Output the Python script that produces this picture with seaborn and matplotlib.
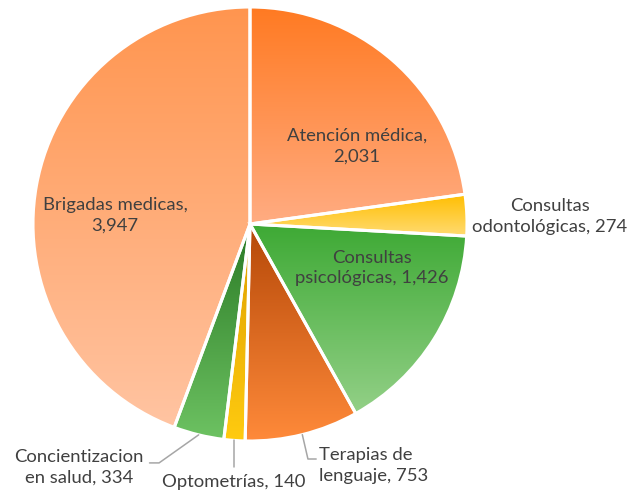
"""Pie chart: actividades de salud (recreated)."""

import matplotlib
matplotlib.use("Agg")
import matplotlib.pyplot as plt
import numpy as np
import seaborn as sns
from matplotlib.colors import LinearSegmentedColormap

CATEGORIES = [
    "Atención médica",
    "Consultas odontológicas",
    "Consultas psicológicas",
    "Terapias de lenguaje",
    "Optometrías",
    "Concientizacion en salud",
    "Brigadas medicas",
]
VALUES = [2031, 274, 1426, 753, 140, 334, 3947]
LABELS = [
    "Atención médica,\n2,031",
    "Consultas\nodontológicas, 274",
    "Consultas\npsicológicas, 1,426",
    "Terapias de\nlenguaje, 753",
    "Optometrías, 140",
    "Concientizacion\nen salud, 334",
    "Brigadas medicas,\n3,947",
]

# gradient fill per slice (top colour -> bottom colour)
TOP_COLORS = ["#FF7A22", "#FFBE00", "#3DA934", "#B54808", "#DD9E00", "#2A7A25", "#FF954F"]
BOTTOM_COLORS = ["#FFAC82", "#FFDB72", "#93D087", "#FF8A3A", "#FFCB10", "#6DC262", "#FFC4A2"]

# label placement (data units, pie radius = 1)
LABEL_POS = [
    (0.493, 0.36, "center"),
    (1.382, 0.035, "center"),
    (0.562, -0.203, "center"),
    (0.318, -1.112, "left"),
    (-0.074, -1.19, "center"),
    (-0.788, -1.122, "center"),
    (-0.622, 0.04, "center"),
]
# leader elbows for the outside labels (index -> list of points)
LEADERS = {
    3: [(0.267, -1.083), (0.305, -1.083)],
    4: [(-0.064, -1.12)],
    5: [(-0.419, -1.101), (-0.463, -1.101)],
}

TEXT_COLOR = "#404040"


def main():
    sns.set_style("white")
    plt.rcParams["font.family"] = ["Lato", "DejaVu Sans"]

    fig = plt.figure(figsize=(6.4, 4.92), dpi=100)
    ax = fig.add_axes([0, 0, 1, 1])

    wedges, _ = ax.pie(
        VALUES,
        startangle=90,
        counterclock=False,
        radius=1,
        wedgeprops=dict(edgecolor="white", linewidth=2.2),
    )

    for w, c_top, c_bot in zip(wedges, TOP_COLORS, BOTTOM_COLORS):
        ext = w.get_path().get_extents()
        cmap = LinearSegmentedColormap.from_list("g", [c_bot, c_top])
        grad = np.linspace(0, 1, 256).reshape(-1, 1)
        im = ax.imshow(
            grad,
            cmap=cmap,
            extent=[ext.x0, ext.x1, ext.y0, ext.y1],
            origin="lower",
            aspect="auto",
            interpolation="bilinear",
            zorder=1,
        )
        im.set_clip_path(w)
        w.set_facecolor("none")
        w.set_zorder(2)

    for i, (label, (x, y, ha)) in enumerate(zip(LABELS, LABEL_POS)):
        ax.text(x, y, label, ha=ha, va="center", fontsize=13.3,
                color=TEXT_COLOR, linespacing=1.36, zorder=4)

    for i, pts in LEADERS.items():
        w = wedges[i]
        mid = np.deg2rad((w.theta1 + w.theta2) / 2)
        xs = [np.cos(mid)] + [p[0] for p in pts]
        ys = [np.sin(mid)] + [p[1] for p in pts]
        if i == 4:
            xs = [np.cos(mid), np.cos(mid)]
        ax.plot(xs, ys, color="#A6A6A6", lw=1.1, zorder=3)

    ax.set_xlim(-250 / 217, 390 / 217)
    ax.set_ylim(-268 / 217, 224 / 217)
    ax.set_aspect("equal")
    ax.axis("off")

    fig.savefig("out.png", dpi=100)
    plt.close(fig)


if __name__ == "__main__":
    main()
